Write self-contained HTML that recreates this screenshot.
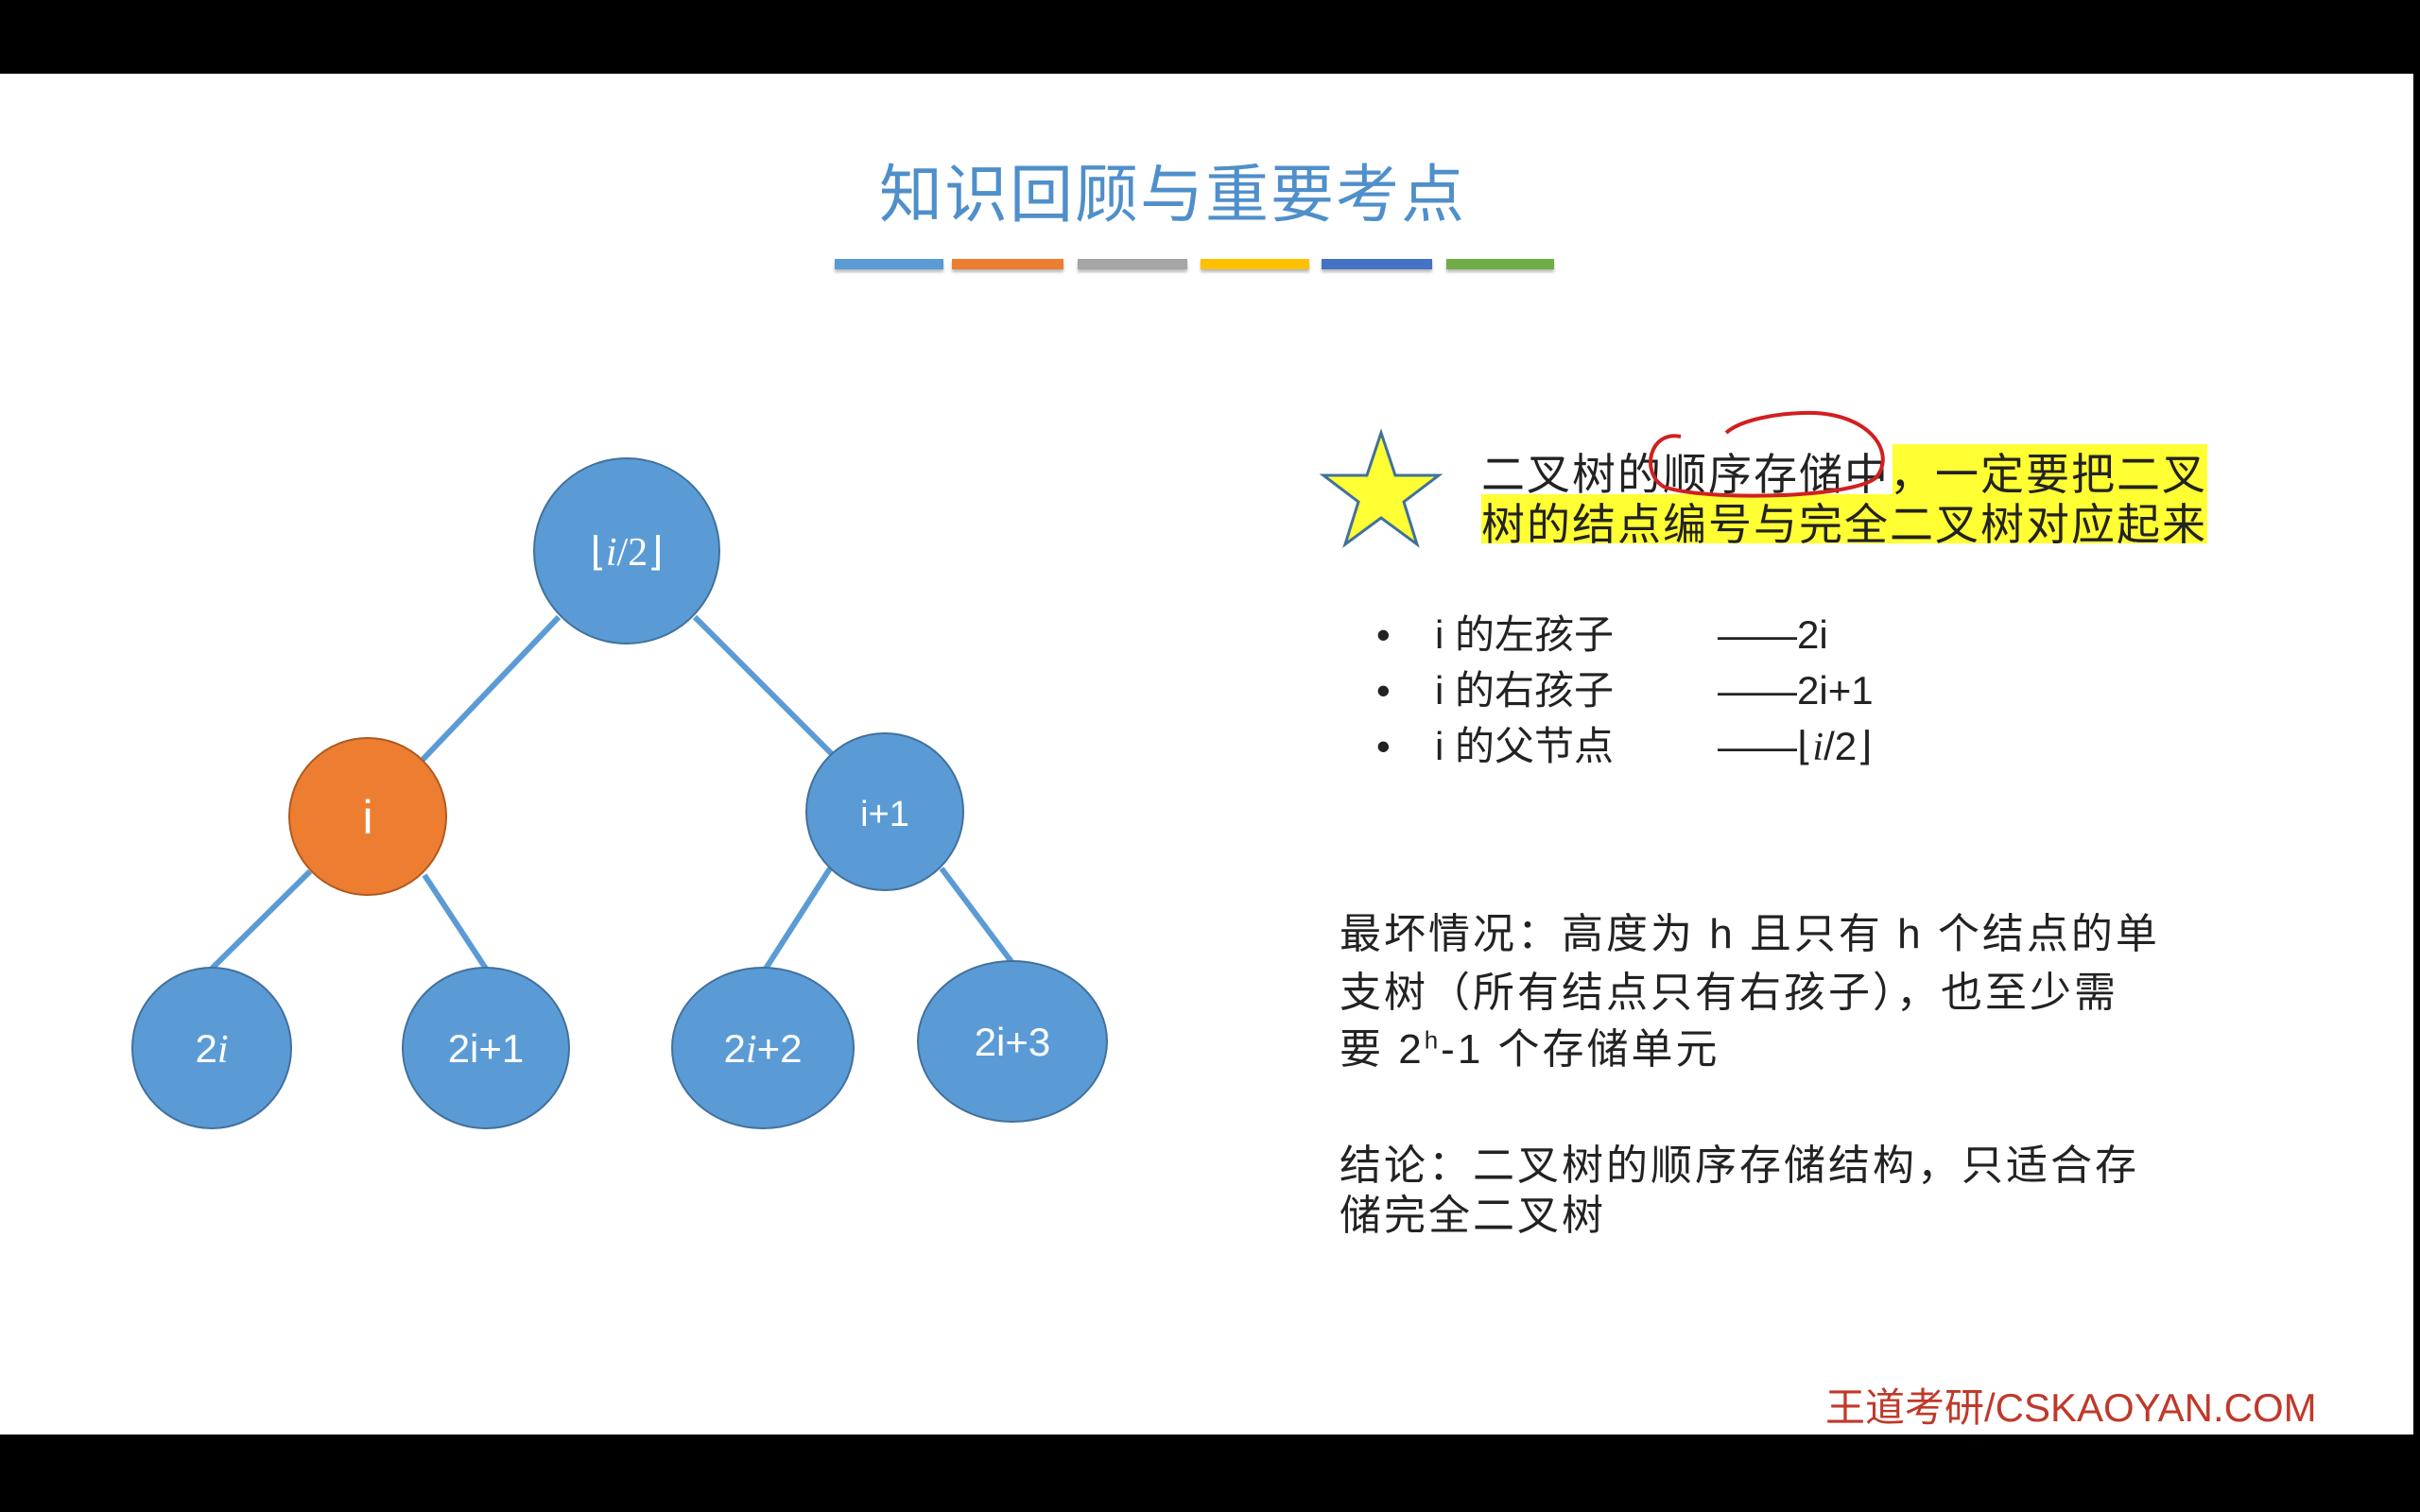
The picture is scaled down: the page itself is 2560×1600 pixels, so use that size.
<!DOCTYPE html>
<html><head><meta charset="utf-8"><style>
body{margin:0;width:2560px;height:1600px;background:#000;position:relative;overflow:hidden;font-family:"Liberation Sans","Noto Sans CJK SC",sans-serif}
.slide{position:absolute;left:0;top:78px;width:2553px;height:1440px;background:#fff}
.t{position:absolute;white-space:nowrap;color:#222}
.cj{font-size:44px;letter-spacing:3px}
</style></head><body>
<div class="slide"></div>
<div class="t" style="left:930px;top:152px;font-size:67px;color:#4f8fca;letter-spacing:2px">知识回顾与重要考点</div>
<div style="position:absolute;top:274px;height:11px;left:883px;width:115px;background:#5b9bd5;box-shadow:0 3px 3px #bbb"></div>
<div style="position:absolute;top:274px;height:11px;left:1007px;width:118px;background:#ed7d31;box-shadow:0 3px 3px #bbb"></div>
<div style="position:absolute;top:274px;height:11px;left:1140px;width:116px;background:#a5a5a5;box-shadow:0 3px 3px #bbb"></div>
<div style="position:absolute;top:274px;height:11px;left:1270px;width:115px;background:#ffc000;box-shadow:0 3px 3px #bbb"></div>
<div style="position:absolute;top:274px;height:11px;left:1398px;width:117px;background:#4472c4;box-shadow:0 3px 3px #bbb"></div>
<div style="position:absolute;top:274px;height:11px;left:1530px;width:114px;background:#70ad47;box-shadow:0 3px 3px #bbb"></div>
<svg style="position:absolute;left:0;top:0" width="2560" height="1600">
<g stroke="#5b9bd5" stroke-width="6">
<line x1="591" y1="653" x2="446" y2="805"/><line x1="735" y1="653" x2="882" y2="800"/>
<line x1="328" y1="922" x2="224" y2="1025"/><line x1="449" y1="926" x2="514" y2="1025"/>
<line x1="878" y1="919" x2="810" y2="1025"/><line x1="996" y1="919" x2="1071" y2="1019"/>
</g>
<g stroke="#41719c" stroke-width="2">
<circle cx="663" cy="583" r="98" fill="#5b9bd5"/>
<circle cx="389" cy="864" r="83" fill="#ed7d31" stroke="#ae5a21"/>
<circle cx="936" cy="859" r="83" fill="#5b9bd5"/>
<ellipse cx="224" cy="1109" rx="84" ry="85" fill="#5b9bd5"/>
<ellipse cx="514" cy="1109" rx="88" ry="85" fill="#5b9bd5"/>
<ellipse cx="807" cy="1109" rx="96" ry="85" fill="#5b9bd5"/>
<ellipse cx="1071" cy="1102" rx="100" ry="85" fill="#5b9bd5"/>
</g>
<g fill="#fff" font-family="Liberation Sans,sans-serif" font-size="42" text-anchor="middle">
<text x="663" y="598" font-family="Liberation Serif,serif">⌊<tspan font-style="italic">i</tspan>/2⌋</text>
<text x="389" y="882" font-size="50">i</text>
<text x="936" y="874" font-size="38">i+1</text>
<text x="224" y="1124">2<tspan font-style="italic" font-family="Liberation Serif,serif">i</tspan></text>
<text x="514" y="1124">2i+1</text>
<text x="807" y="1124">2<tspan font-style="italic" font-family="Liberation Serif,serif">i</tspan>+2</text>
<text x="1071" y="1117">2i+3</text>
</g>
<polygon points="1461,458 1476,503 1522,503 1485,531 1499,576 1461,548 1423,576 1437,531 1400,503 1446,503" fill="#ffff33" stroke="#41719c" stroke-width="3"/>
<rect x="2002" y="470" width="333" height="53" fill="#ffff33"/>
<rect x="1567" y="523" width="768" height="52" fill="#ffff33"/>
</svg>
<div class="t" style="left:1567px;top:466px;font-size:46px;letter-spacing:2px">二叉树的顺序存储中，一定要把二叉</div>
<div class="t" style="left:1567px;top:519px;font-size:46px;letter-spacing:2px">树的结点编号与完全二叉树对应起来</div>
<svg style="position:absolute;left:0;top:0" width="2560" height="1600">
<path d="M1778,462 C1745,455 1735,500 1760,515 C1800,530 1960,528 1985,505 C2005,480 1980,440 1920,437 C1880,436 1840,445 1826,458" fill="none" stroke="#d02020" stroke-width="4"/>
</svg>
<div class="t" style="left:1456px;top:642px;font-size:42px;line-height:59px">•<br>•<br>•</div>
<div class="t" style="left:1518px;top:642px;font-size:42px;line-height:59px">i 的左孩子<br>i 的右孩子<br>i 的父节点</div>
<div class="t" style="left:1817px;top:642px;font-size:42px;line-height:59px">——2i<br>——2i+1<br>——⌊<i style="font-family:'Liberation Serif',serif">i</i>/2⌋</div>
<div class="t cj" style="left:1417px;top:952px">最坏情况：高度为 h 且只有 h 个结点的单</div>
<div class="t cj" style="left:1417px;top:1014px">支树（所有结点只有右孩子），也至少需</div>
<div class="t cj" style="left:1417px;top:1074px">要 2<sup style="font-size:26px">h</sup>-1 个存储单元</div>
<div class="t cj" style="left:1417px;top:1197px">结论：二叉树的顺序存储结构，只适合存</div>
<div class="t cj" style="left:1417px;top:1250px">储完全二叉树</div>
<div class="t" style="left:1931px;top:1456px;font-size:42px;color:#c0392b">王道考研/CSKAOYAN.COM</div>
</body></html>
